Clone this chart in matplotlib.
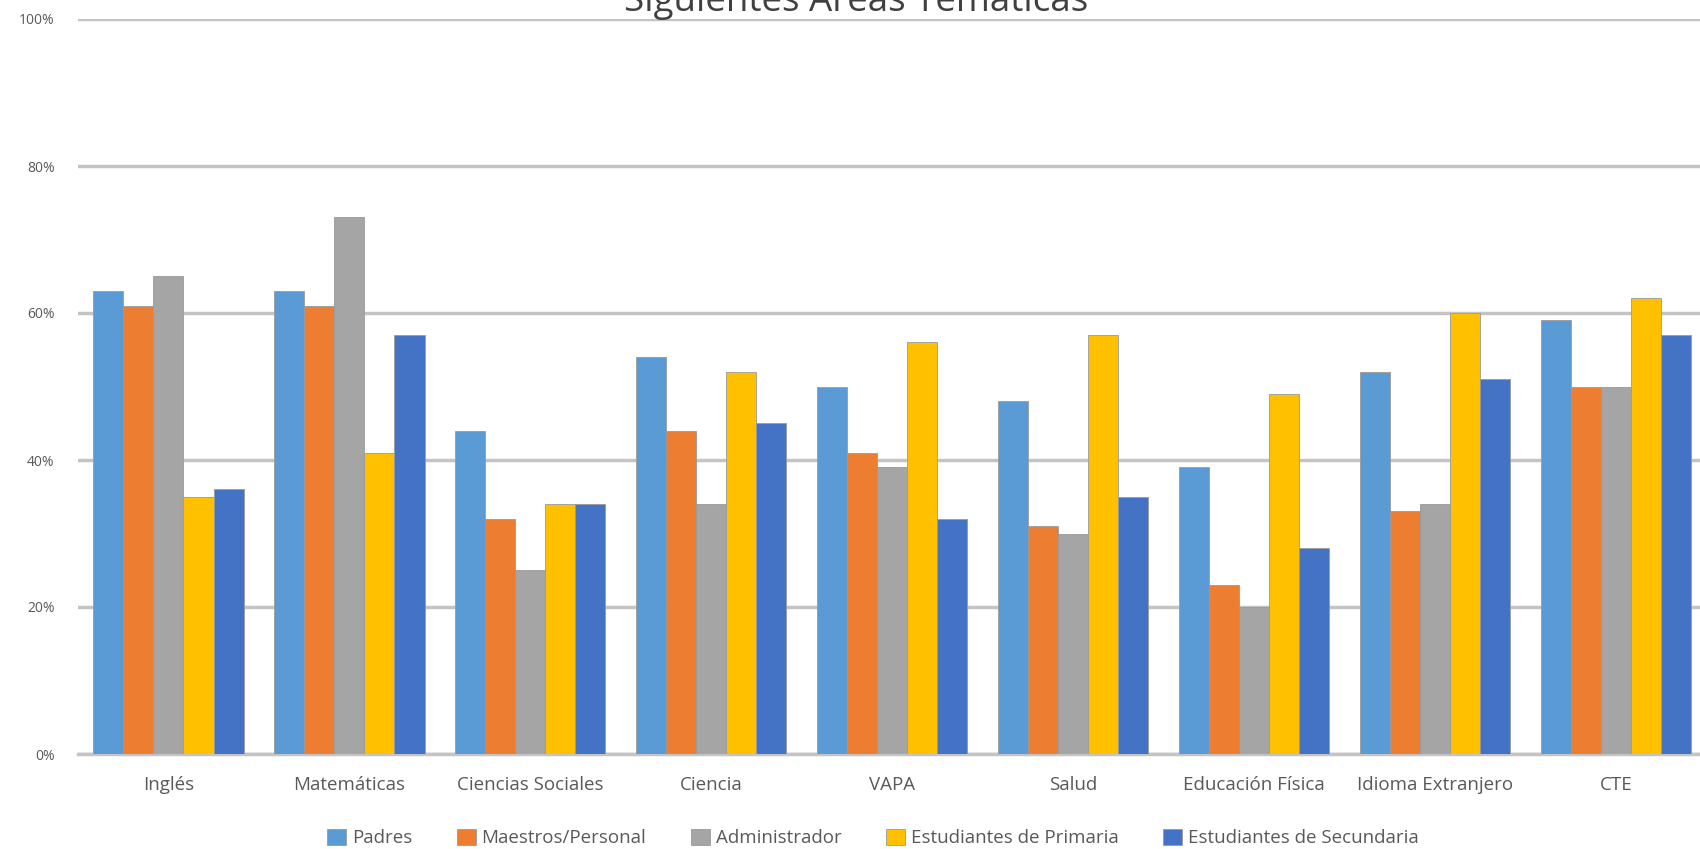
import numpy as np
import matplotlib.pyplot as plt
from matplotlib.ticker import PercentFormatter

categories = ["Inglés", "Matemáticas", "Ciencias Sociales", "Ciencia", "VAPA",
              "Salud", "Educación Física", "Idioma Extranjero", "CTE"]
series_names = ["Padres", "Maestros/Personal", "Administrador",
                "Estudiantes de Primaria", "Estudiantes de Secundaria"]
padres = [63, 63, 44, 54, 50, 48, 39, 52, 59]
maestros = [61, 61, 32, 44, 41, 31, 23, 33, 50]
administrador = [65, 73, 25, 34, 39, 30, 20, 34, 50]
primaria = [35, 41, 34, 52, 56, 57, 49, 60, 62]
secundaria = [36, 57, 34, 45, 32, 35, 28, 51, 57]
colors = ["#5B9BD5", "#ED7D31", "#A5A5A5", "#FFC000", "#4472C4"]

plt.rcParams['font.family'] = ['Open Sans', 'DejaVu Sans']

fig = plt.figure(figsize=(17, 8.49), dpi=100)
ax = fig.add_axes([78 / 1700, 1 - 754 / 849, 1 - 78 / 1700, (754 - 19) / 849])

x = np.arange(len(categories))
w = 0.166
all_series = [padres, maestros, administrador, primaria, secundaria]
for i, (vals, name, c) in enumerate(zip(all_series, series_names, colors)):
    ax.bar(x + (i - 2) * w, np.array(vals) / 100, w, color=c, label=name,
           edgecolor="#9a9a9a", linewidth=0.6, zorder=3)

ax.set_ylim(0, 1)
ax.set_xlim(-0.5, (1700 - 168) / 181)
ax.set_yticks(np.arange(0, 1.01, 0.2))
ax.yaxis.set_major_formatter(PercentFormatter(1, decimals=0))
ax.grid(axis="y", color="#c4c4c4", linewidth=2.5, zorder=0)
ax.set_xticks(x)
ax.set_xticklabels(categories)
for s in ["top", "right", "left"]:
    ax.spines[s].set_visible(False)
ax.spines["bottom"].set_color("#c4c4c4")
ax.spines["bottom"].set_linewidth(2.5)
ax.tick_params(axis="x", length=0, pad=16, labelsize=13.5, labelcolor="#595959")
ax.tick_params(axis="y", length=0, pad=17, labelsize=10, labelcolor="#595959")

fig.text(856 / 1700, 1 - 11 / 849, "Siguientes Áreas Temáticas", ha="center",
         va="baseline", fontsize=26.5, color="#404040")

fig.legend(loc="center", bbox_to_anchor=(873 / 1700, 1 - 838 / 849), ncol=5,
           frameon=False, fontsize=13.5, handlelength=1.0, handleheight=1.0,
           columnspacing=2.4, handletextpad=0.3, labelcolor="#595959")

fig.savefig("out.png", dpi=100)
